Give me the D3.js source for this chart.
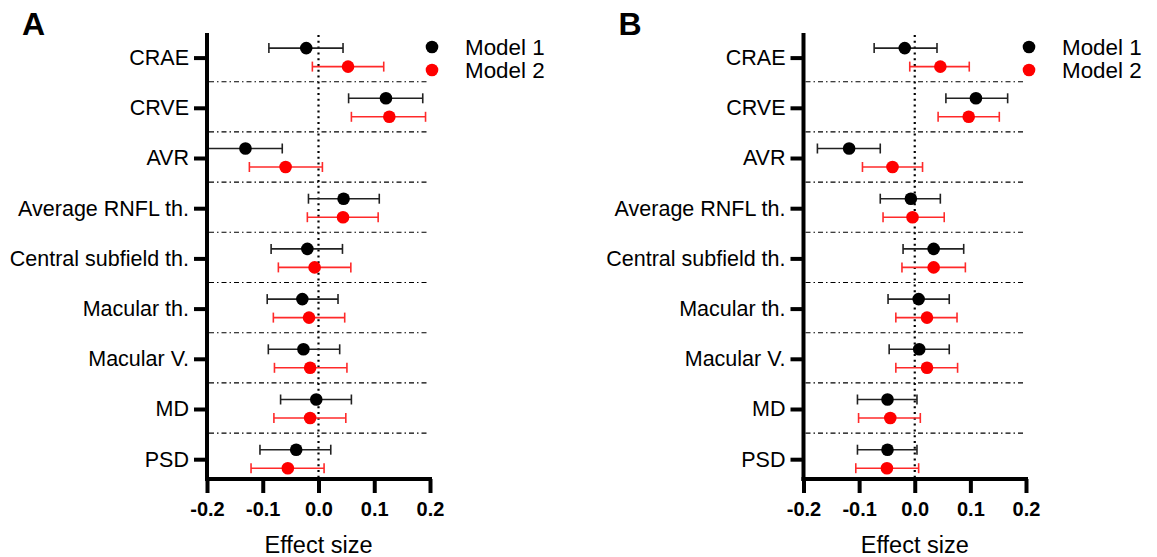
<!DOCTYPE html>
<html>
<head>
<meta charset="utf-8">
<script src="https://cdn.jsdelivr.net/npm/d3@7"></script>
<style>
  body { margin: 0; background: #fff; }
  svg { font-family: "Liberation Sans", Arial, sans-serif; }
</style>
</head>
<body>
<script>
// categories and tick labels
var categories = ["CRAE", "CRVE", "AVR", "Average RNFL th.", "Central subfield th.",
                  "Macular th.", "Macular V.", "MD", "PSD"];
var xTicks = [-0.2, -0.1, 0.0, 0.1, 0.2];
var seriesNames = ["Model 1", "Model 2"];

// panel A
var aModel1Est = [-0.022, 0.121, -0.131, 0.045, -0.020, -0.029, -0.027, -0.004, -0.040];
var aModel1Lo  = [-0.089, 0.054, -0.199, -0.018, -0.085, -0.092, -0.090, -0.068, -0.105];
var aModel1Hi  = [0.044, 0.187, -0.065, 0.109, 0.043, 0.035, 0.038, 0.059, 0.022];
var aModel2Est = [0.053, 0.127, -0.059, 0.044, -0.007, -0.017, -0.015, -0.015, -0.055];
var aModel2Lo  = [-0.011, 0.059, -0.124, -0.020, -0.072, -0.081, -0.079, -0.080, -0.121];
var aModel2Hi  = [0.117, 0.192, 0.007, 0.107, 0.058, 0.047, 0.051, 0.049, 0.010];

// panel B
var bModel1Est = [-0.018, 0.110, -0.118, -0.007, 0.034, 0.007, 0.008, -0.049, -0.049];
var bModel1Lo  = [-0.073, 0.056, -0.175, -0.062, -0.021, -0.048, -0.046, -0.103, -0.103];
var bModel1Hi  = [0.040, 0.167, -0.062, 0.046, 0.088, 0.062, 0.062, 0.004, 0.004];
var bModel2Est = [0.046, 0.097, -0.040, -0.004, 0.034, 0.022, 0.022, -0.044, -0.050];
var bModel2Lo  = [-0.009, 0.042, -0.094, -0.057, -0.023, -0.034, -0.034, -0.101, -0.106];
var bModel2Hi  = [0.098, 0.152, 0.014, 0.053, 0.091, 0.076, 0.077, 0.010, 0.007];

var colors = ["#000000", "#ff0000"];
var barColors = ["#222222", "#ff2a2a"];

var W = 1157, H = 557;
var svg = d3.select("body").append("svg").attr("width", W).attr("height", H);

function toRows(est, lo, hi) {
  return est.map(function(d, i) { return { cat: categories[i], est: d, lo: lo[i], hi: hi[i] }; });
}

function drawPanel(letter, x0, x1, legendX, series) {
  var g = svg.append("g");
  var top = 33, bottom = 479;

  var x = d3.scaleLinear().domain([-0.2, 0.2]).range([x0, x1]);
  var y = d3.scalePoint().domain(categories).range([57.6, 459.2]);
  var step = y.step();

  // panel letter
  g.append("text").attr("x", x0 - 185).attr("y", 35)
    .attr("font-size", 32).attr("font-weight", "bold").text(letter);

  // dash-dot separators
  g.selectAll(".sep").data(categories.slice(0, -1)).enter().append("line")
    .attr("x1", x0 + 2).attr("x2", x1 - 2)
    .attr("y1", function(d) { return y(d) + step / 2 - 1; })
    .attr("y2", function(d) { return y(d) + step / 2 - 1; })
    .attr("stroke", "#000").attr("stroke-width", 1.1)
    .attr("stroke-dasharray", "5,3,1.5,3");

  // zero line
  g.append("line").attr("x1", x(0)).attr("x2", x(0)).attr("y1", top + 2).attr("y2", bottom)
    .attr("stroke", "#000").attr("stroke-width", 2.2).attr("stroke-dasharray", "2,3.8");

  // series
  var offsets = [-9.5, 9];
  series.forEach(function(rows, si) {
    var s = g.append("g");
    var yy = function(d) { return y(d.cat) + offsets[si]; };
    s.selectAll(".bar").data(rows).enter().append("line")
      .attr("x1", function(d) { return x(Math.max(d.lo, -0.2)); })
      .attr("x2", function(d) { return x(d.hi); })
      .attr("y1", yy).attr("y2", yy)
      .attr("stroke", barColors[si]).attr("stroke-width", 1.6);
    ["lo", "hi"].forEach(function(k) {
      s.selectAll(".cap" + k).data(rows).enter().append("line")
        .attr("x1", function(d) { return x(d[k]); })
        .attr("x2", function(d) { return x(d[k]); })
        .attr("y1", function(d) { return yy(d) - 5; })
        .attr("y2", function(d) { return yy(d) + 5; })
        .attr("stroke", barColors[si]).attr("stroke-width", 1.6);
    });
    s.selectAll("circle").data(rows).enter().append("circle")
      .attr("cx", function(d) { return x(d.est); })
      .attr("cy", yy).attr("r", 6.3).attr("fill", colors[si]);
  });

  // y axis
  var yAxis = g.append("g").attr("transform", "translate(" + x0 + ",0)")
    .call(d3.axisLeft(y).tickSize(13).tickPadding(5));
  yAxis.select(".domain").remove();
  yAxis.selectAll(".tick line").attr("stroke", "#000").attr("stroke-width", 4);
  yAxis.selectAll(".tick text").attr("font-size", 21.5).attr("fill", "#000")
    .attr("font-family", "Liberation Sans, Arial, sans-serif");
  g.append("line").attr("x1", x0).attr("x2", x0).attr("y1", top).attr("y2", bottom + 2)
    .attr("stroke", "#000").attr("stroke-width", 4);

  // x axis
  var xAxis = g.append("g").attr("transform", "translate(0," + bottom + ")")
    .call(d3.axisBottom(x).tickValues(xTicks).tickSize(14).tickPadding(9)
      .tickFormat(d3.format(".1f")));
  xAxis.select(".domain").remove();
  xAxis.selectAll(".tick line").attr("stroke", "#000").attr("stroke-width", 4);
  xAxis.selectAll(".tick text").attr("font-size", 20).attr("font-weight", "bold")
    .attr("fill", "#000").attr("font-family", "Liberation Sans, Arial, sans-serif")
    .text(function(d) { return d3.format(".1f")(d).replace("−", "-"); });
  g.append("line").attr("x1", x0 - 2).attr("x2", x1 + 2).attr("y1", bottom).attr("y2", bottom)
    .attr("stroke", "#000").attr("stroke-width", 4);

  g.append("text").attr("x", x(0)).attr("y", 553).attr("text-anchor", "middle")
    .attr("font-size", 23.5).text("Effect size");

  // legend
  seriesNames.forEach(function(name, i) {
    g.append("circle").attr("cx", legendX).attr("cy", 47 + i * 23).attr("r", 6.3).attr("fill", colors[i]);
    g.append("text").attr("x", legendX + 33).attr("y", 47 + i * 23 + 8)
      .attr("font-size", 22.4).text(name);
  });
}

drawPanel("A", 207, 430, 432, [toRows(aModel1Est, aModel1Lo, aModel1Hi), toRows(aModel2Est, aModel2Lo, aModel2Hi)]);
drawPanel("B", 803.5, 1026, 1029, [toRows(bModel1Est, bModel1Lo, bModel1Hi), toRows(bModel2Est, bModel2Lo, bModel2Hi)]);
</script>
</body>
</html>
